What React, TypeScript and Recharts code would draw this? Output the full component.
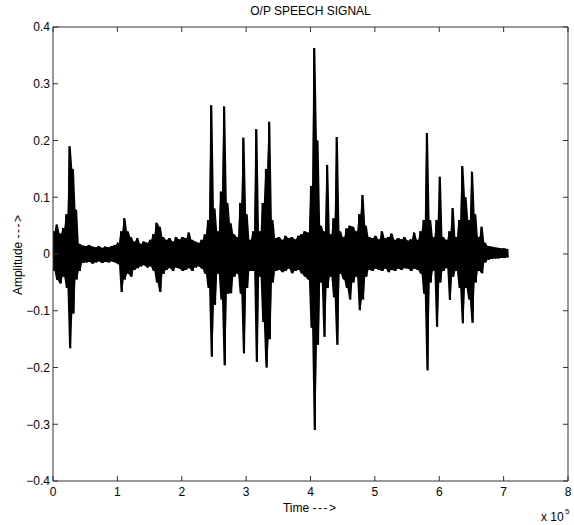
import { ComposedChart, Line, Area, XAxis, YAxis, ReferenceLine } from 'recharts';

// sample grid: one envelope pair every 0.05 (x 10^5 samples)
const STEP = 0.05;

// upper envelope (peak), one per step from t = 0
const UPPER = [
  0.040, 0.052, 0.036, 0.046, 0.070, 0.190, 0.150, 0.078, 0.018, 0.015,
  0.014, 0.016, 0.013, 0.012, 0.014, 0.011, 0.013, 0.012, 0.014, 0.016,
  0.020, 0.040, 0.063, 0.040, 0.030, 0.022, 0.028, 0.018, 0.022, 0.020,
  0.025, 0.035, 0.055, 0.048, 0.030, 0.025, 0.028, 0.022, 0.030, 0.026,
  0.030, 0.028, 0.038, 0.025, 0.022, 0.020, 0.025, 0.035, 0.060, 0.262,
  0.080, 0.040, 0.110, 0.260, 0.090, 0.054, 0.035, 0.030, 0.090, 0.205,
  0.070, 0.025, 0.040, 0.220, 0.040, 0.090, 0.150, 0.233, 0.060, 0.028,
  0.030, 0.025, 0.032, 0.028, 0.030, 0.026, 0.032, 0.035, 0.040, 0.038,
  0.120, 0.363, 0.200, 0.050, 0.040, 0.157, 0.035, 0.063, 0.206, 0.040,
  0.030, 0.045, 0.050, 0.048, 0.040, 0.070, 0.104, 0.050, 0.030, 0.028,
  0.032, 0.026, 0.040, 0.028, 0.030, 0.036, 0.025, 0.028, 0.026, 0.030,
  0.024, 0.026, 0.038, 0.025, 0.040, 0.060, 0.213, 0.060, 0.030, 0.060,
  0.136, 0.030, 0.025, 0.040, 0.081, 0.030, 0.060, 0.155, 0.100, 0.060,
  0.145, 0.070, 0.030, 0.048, 0.020, 0.014, 0.013, 0.012, 0.011, 0.010,
  0.010, 0.009,
];

// lower envelope (trough), same grid, drawn half a step later
const LOWER = [
  -0.030, -0.046, -0.052, -0.040, -0.060, -0.166, -0.105, -0.045, -0.030, -0.016,
  -0.015, -0.014, -0.017, -0.015, -0.013, -0.016, -0.014, -0.015, -0.013, -0.015,
  -0.018, -0.067, -0.045, -0.035, -0.040, -0.028, -0.025, -0.022, -0.020, -0.024,
  -0.022, -0.030, -0.050, -0.067, -0.035, -0.028, -0.025, -0.030, -0.024, -0.026,
  -0.030, -0.028, -0.025, -0.030, -0.024, -0.022, -0.026, -0.035, -0.060, -0.181,
  -0.090, -0.035, -0.080, -0.196, -0.070, -0.069, -0.040, -0.035, -0.070, -0.175,
  -0.060, -0.030, -0.030, -0.190, -0.040, -0.120, -0.200, -0.150, -0.050, -0.030,
  -0.028, -0.032, -0.030, -0.026, -0.034, -0.030, -0.028, -0.035, -0.040, -0.045,
  -0.130, -0.310, -0.160, -0.050, -0.146, -0.060, -0.040, -0.076, -0.160, -0.035,
  -0.045, -0.060, -0.080, -0.050, -0.040, -0.099, -0.080, -0.040, -0.028, -0.030,
  -0.026, -0.028, -0.030, -0.026, -0.032, -0.028, -0.030, -0.026, -0.028, -0.025,
  -0.026, -0.030, -0.026, -0.028, -0.035, -0.070, -0.205, -0.050, -0.030, -0.128,
  -0.050, -0.030, -0.025, -0.081, -0.040, -0.030, -0.060, -0.122, -0.060, -0.080,
  -0.121, -0.050, -0.030, -0.034, -0.015, -0.010, -0.009, -0.008, -0.008, -0.007,
  -0.007, -0.006,
];

const X_TICKS = [0, 1, 2, 3, 4, 5, 6, 7, 8];
const Y_TICKS = [-0.4, -0.3, -0.2, -0.1, 0, 0.1, 0.2, 0.3, 0.4];
const X_MAX = 8;
const Y_MAX = 0.4;

const FONT = '"Liberation Sans", Arial, sans-serif';
const FRAME = '#333';

// plot box: 515 x 454 px starting at (53, 27); 5px inward ticks in data units
const BOX = { left: 53, top: 27, width: 515, height: 454 };
const TICK_DX = (X_MAX * 5) / BOX.width;
const TICK_DY = (2 * Y_MAX * 5) / BOX.height;

const fmtY = (v: number) => (v === 0 ? '0' : v.toFixed(1).replace('-', '\u2212'));

export default function App() {
  // peak then trough per step: the band is filled, the zigzag gives the ragged edge
  const data = UPPER.flatMap((hi, i) => [
    { t: i * STEP, v: hi, band: [LOWER[i], hi] },
    { t: i * STEP + STEP / 2, v: LOWER[i], band: [LOWER[i], hi] },
  ]);

  const tickStyle = { fill: '#000', fontSize: 12, fontFamily: FONT };
  const right = BOX.left + BOX.width;
  const bottom = BOX.top + BOX.height;

  return (
    <div style={{ position: 'absolute', left: 0, top: 0, width: 574, height: 525, background: '#fff' }}>
      <ComposedChart width={574} height={525} data={data}
                     margin={{ top: BOX.top, right: 574 - right, left: 0, bottom: 0 }}>
        <XAxis dataKey="t" type="number" domain={[0, X_MAX]} ticks={X_TICKS} allowDataOverflow
               height={525 - bottom} tickSize={-5} tickMargin={11} stroke={FRAME}
               tick={tickStyle} tickFormatter={(v) => String(v)} />
        <YAxis type="number" domain={[-Y_MAX, Y_MAX]} ticks={Y_TICKS} allowDataOverflow
               width={BOX.left} tickSize={-5} tickMargin={8} stroke={FRAME} tick={tickStyle}
               tickFormatter={fmtY} />
        <Area type="linear" dataKey="band" fill="#000" fillOpacity={1} stroke="none"
              isAnimationActive={false} />
        <Line type="linear" dataKey="v" stroke="#000" strokeWidth={1} dot={false}
              isAnimationActive={false} />
        {/* inward ticks along the top and right edges of the box */}
        {X_TICKS.map((t) => (
          <ReferenceLine key={`xt${t}`} stroke={FRAME} ifOverflow="visible"
                         segment={[{ x: t, y: Y_MAX }, { x: t, y: Y_MAX - TICK_DY }]} />
        ))}
        {Y_TICKS.map((v) => (
          <ReferenceLine key={`yt${v}`} stroke={FRAME} ifOverflow="visible"
                         segment={[{ x: X_MAX, y: v }, { x: X_MAX - TICK_DX, y: v }]} />
        ))}
      </ComposedChart>
      <svg width={574} height={525} style={{ position: 'absolute', left: 0, top: 0, pointerEvents: 'none' }}
           fontFamily={FONT} fontSize={12}>
        {/* top and right edges of the MATLAB-style box */}
        <line x1={BOX.left} y1={BOX.top} x2={right} y2={BOX.top} stroke={FRAME} />
        <line x1={right} y1={BOX.top} x2={right} y2={bottom} stroke={FRAME} />
        <text x={310.5} y={15} textAnchor="middle">O/P SPEECH SIGNAL</text>
        <text x={309.5} y={512} textAnchor="middle">Time <tspan letterSpacing={1.5}>---</tspan>&gt;</text>
        <text x={22} y={255} textAnchor="middle" transform="rotate(-90 22 255)">
          Amplitude <tspan letterSpacing={1.5}>---</tspan>&gt;
        </text>
        <text x={541} y={521}>x 10</text>
        <text x={565} y={514} fontSize={8}>5</text>
      </svg>
    </div>
  );
}
